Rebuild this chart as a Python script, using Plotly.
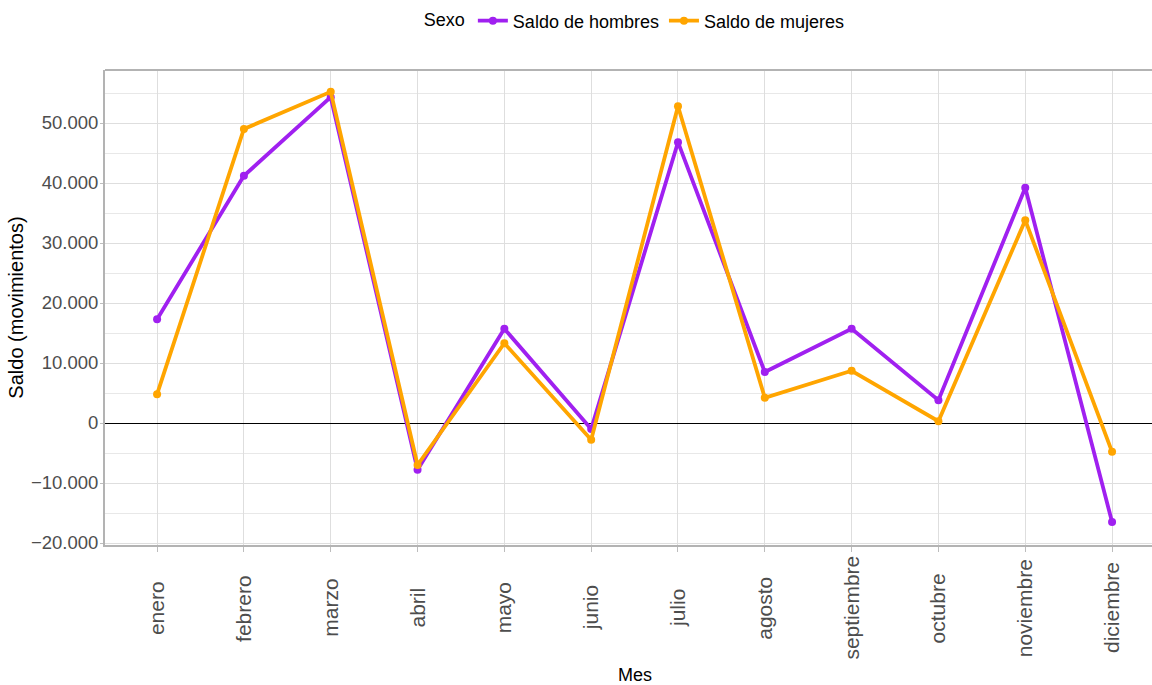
import plotly.graph_objects as go

meses = ["enero", "febrero", "marzo", "abril", "mayo", "junio", "julio",
         "agosto", "septiembre", "octubre", "noviembre", "diciembre"]
hombres = [17300, 41200, 54300, -7800, 15700, -1000, 46800, 8500, 15700, 3800, 39200, -16500]
mujeres = [4800, 49000, 55200, -7000, 13300, -2800, 52800, 4200, 8700, 300, 33800, -4800]
yticks = [-20000, -10000, 0, 10000, 20000, 30000, 40000, 50000]

sans = "Liberation Sans, Arial, sans-serif"

W, H = 1152, 685
fig = go.Figure()
fig.add_trace(go.Scatter(x=meses, y=hombres, name="Saldo de hombres", mode="lines+markers",
                         line=dict(color="#a020f0", width=3.8), marker=dict(size=8, color="#a020f0")))
fig.add_trace(go.Scatter(x=meses, y=mujeres, name="Saldo de mujeres", mode="lines+markers",
                         line=dict(color="#ffa500", width=3.8), marker=dict(size=8, color="#ffa500")))

fig.update_layout(
    width=W, height=H,
    margin=dict(l=105, r=0, t=70, b=140, autoexpand=False),
    plot_bgcolor="white", paper_bgcolor="white",
    separators=",.",
    legend=dict(orientation="h", x=0.507, xanchor="center", y=1 - 21 / H, yref="container", yanchor="middle",
                title=dict(text="Sexo", font=dict(family=sans, size=18, color="black")),
                font=dict(family=sans, size=18, color="black")),
    showlegend=True,
)
fig.update_xaxes(
    categoryorder="array", categoryarray=meses, range=[-0.6, 11.46],
    showticklabels=False, automargin=False,
    showgrid=True, gridcolor="#dedede", gridwidth=1,
    ticks="outside", ticklen=5, tickcolor="#bdbdbd",
    showline=True, linecolor="#b3b3b3", linewidth=2, mirror=False,
)
fig.update_yaxes(
    range=[-20333, 58833], tickvals=yticks, automargin=False,
    tickformat=",d", tickfont=dict(family=sans, size=18.5, color="#4d4d4d"),
    showgrid=True, gridcolor="#dedede", gridwidth=1,
    minor=dict(dtick=5000, showgrid=True, gridcolor="#e8e8e8", gridwidth=1),
    ticks="outside", ticklen=3, tickcolor="#bdbdbd", ticklabelstandoff=-2,
    showline=True, linecolor="#b3b3b3", linewidth=2, mirror=False,
    zeroline=True, zerolinecolor="black", zerolinewidth=1,
    title=dict(text="Saldo (movimientos)", font=dict(family=sans, size=20, color="black"), standoff=2),
)
# month labels centred below the axis (rotated)
for m in meses:
    fig.add_annotation(x=m, xref="x", y=-0.1326, yref="paper", text=m, textangle=-90,
                       showarrow=False, xanchor="center", yanchor="middle",
                       font=dict(family=sans, size=21, color="#4d4d4d"))
fig.add_annotation(x=0.506, xref="paper", y=(545 - 675) / 475, yref="paper", text="Mes", showarrow=False,
                   font=dict(family=sans, size=18, color="black"), xanchor="center", yanchor="middle")
# top border
fig.add_shape(type="line", xref="paper", yref="paper", x0=0, x1=1, y0=1, y1=1,
              line=dict(color="#b3b3b3", width=2))

fig.write_html("out.html", config={"displayModeBar": False},
               post_script="document.body.style.margin='0';document.body.style.overflow='hidden';")
